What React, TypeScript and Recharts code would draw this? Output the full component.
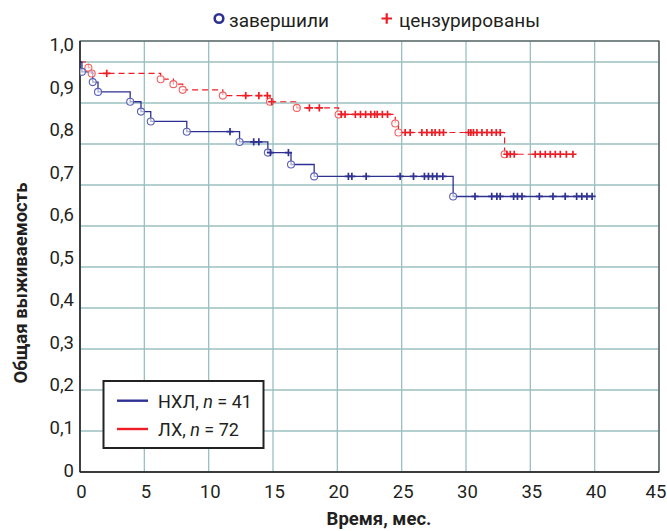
import React from 'react';
import { ComposedChart, Line, Scatter, XAxis, YAxis, CartesianGrid, ReferenceArea } from 'recharts';

// НХЛ (n = 41): event times, survival after each step, censored times
const NHL_T = [0, 0.15, 0.99, 1.4, 3.9, 4.74, 5.5, 8.3, 12.4, 14.6, 16.4, 18.2, 29.0];
const NHL_S = [1.0, 0.976, 0.951, 0.927, 0.903, 0.879, 0.855, 0.83, 0.805, 0.779, 0.75, 0.721, 0.672];
const NHL_END = 39.8;
const NHL_CENS = [11.66, 13.5, 13.9, 14.8, 16.2, 20.86, 21.13, 22.24, 24.88, 25.92, 26.77, 27.08, 27.4, 27.74, 28.2,
  30.7, 32.0, 32.4, 32.66, 33.7, 34.0, 34.35, 35.7, 36.76, 37.71, 38.6, 39.0, 39.4, 39.8];

// ЛХ (n = 72)
const LH_T = [0, 0.65, 0.91, 6.27, 7.26, 7.98, 11.1, 14.77, 16.85, 20.1, 24.5, 24.75, 33.0];
const LH_S = [1.0, 0.986, 0.972, 0.958, 0.946, 0.932, 0.918, 0.903, 0.888, 0.872, 0.85, 0.828, 0.775];
const LH_END = 38.3;
const LH_CENS = [2.08, 12.88, 13.9, 14.56, 14.9, 17.83, 18.6,
  20.3, 20.6, 21.4, 21.8, 22.2, 22.6, 22.9, 23.1, 23.5, 23.9,
  25.27, 25.66, 26.57, 26.96, 27.35, 27.6, 27.94, 28.25,
  30.2, 30.38, 30.58, 30.85, 31.24, 31.63, 32.0, 32.35, 32.66,
  33.18, 33.44, 33.75, 35.38, 35.77, 36.16, 36.55, 36.94, 37.33, 37.8, 38.31];

const X_TICKS = [0, 5, 10, 15, 20, 25, 30, 35, 40, 45];
const Y_TICKS = [0, 0.1, 0.2, 0.3, 0.4, 0.5, 0.6, 0.7, 0.8, 0.9, 1.0];

const W = 667;
const H = 531;
const Y_MAX = 1.0512;
const BLUE = '#2e3192';
const RED = '#ee1c24';
const FONT = 'Roboto, sans-serif';

const levelAt = (T: number[], S: number[], t: number) => {
  let s = S[0];
  T.forEach((tt, i) => { if (tt <= t) s = S[i]; });
  return s;
};

const stepLine = (T: number[], S: number[], end: number) =>
  [...T.map((t, i) => ({ t, s: S[i] })), { t: end, s: S[S.length - 1] }];
const events = (T: number[], S: number[]) => T.slice(1).map((t, i) => ({ t, s: S[i + 1] }));
const censored = (T: number[], S: number[], C: number[]) => C.map((t) => ({ t, s: levelAt(T, S, t) }));

const nhlLine = stepLine(NHL_T, NHL_S, NHL_END);
const lhLine = stepLine(LH_T, LH_S, LH_END);
const nhlEvents = events(NHL_T, NHL_S);
const lhEvents = events(LH_T, LH_S);
const nhlCens = censored(NHL_T, NHL_S, NHL_CENS);
const lhCens = censored(LH_T, LH_S, LH_CENS);

const circleShape = (color: string) => (p: any) => (
  <circle cx={p.cx} cy={p.cy} r={3.5} fill="#fff" fillOpacity={0.6} stroke={color} strokeWidth={1.1} />
);
const plusShape = (color: string) => (p: any) => (
  <path d={`M${p.cx - 3.6},${p.cy}H${p.cx + 3.6}M${p.cx},${p.cy - 3.6}V${p.cy + 3.6}`} stroke={color} strokeWidth={1.7} fill="none" />
);

const fmtY = (v: number) => (v === 0 ? '0' : v.toFixed(1).replace('.', ','));

const YTick = (p: any) => {
  const v = p.payload.value;
  return (
    <text x={74} y={p.y - 2 - 15 * v + 6.5} textAnchor="end" fontSize={18.5} fill="#231f20" fontFamily={FONT}>
      {fmtY(v)}
    </text>
  );
};

const XTick = (p: any) => {
  const v = p.payload.value;
  return (
    <text x={p.x + (v === 45 ? -3 : 1.5)} y={498} textAnchor="middle" fontSize={18.5} fill="#231f20" fontFamily={FONT}>
      {v}
    </text>
  );
};

export default function App() {
  return (
    <div style={{ position: 'absolute', left: 0, top: 0, width: W, height: H, background: '#fff' }}>
      <ComposedChart width={W} height={H} margin={{ top: 41, right: 8, bottom: 29, left: 0 }}>
        <CartesianGrid stroke="#9bbfbf" strokeWidth={1.3} />
        <XAxis type="number" dataKey="t" domain={[0, 45]} ticks={X_TICKS} allowDataOverflow height={30}
          axisLine={{ stroke: '#222', strokeWidth: 1.3 }} tickLine={false} tick={<XTick />} />
        <YAxis type="number" dataKey="s" domain={[0, Y_MAX]} ticks={Y_TICKS} allowDataOverflow width={80}
          axisLine={{ stroke: '#222', strokeWidth: 1.3 }} tickLine={false} tick={<YTick />} />
        <ReferenceArea x1={0} x2={45} y1={0} y2={Y_MAX} fill="none" stroke="#444" strokeWidth={1.2} ifOverflow="visible" />
        <Line data={lhLine} dataKey="s" type="stepAfter" stroke={RED} strokeWidth={1.2} strokeDasharray="6 4"
          dot={false} activeDot={false} isAnimationActive={false} />
        <Line data={nhlLine} dataKey="s" type="stepAfter" stroke={BLUE} strokeWidth={1.3}
          dot={false} activeDot={false} isAnimationActive={false} />
        <Scatter data={lhEvents} dataKey="s" shape={circleShape('#f26060')} isAnimationActive={false} />
        <Scatter data={nhlEvents} dataKey="s" shape={circleShape('#5a62b8')} isAnimationActive={false} />
        <Scatter data={lhCens} dataKey="s" shape={plusShape(RED)} isAnimationActive={false} />
        <Scatter data={nhlCens} dataKey="s" shape={plusShape(BLUE)} isAnimationActive={false} />
      </ComposedChart>
      <svg width={W} height={H} style={{ position: 'absolute', left: 0, top: 0, pointerEvents: 'none' }} fontFamily={FONT}>
        <circle cx={219} cy={18.5} r={4.3} fill="none" stroke={BLUE} strokeWidth={2.6} />
        <text x={229} y={26.5} fontSize={19} fill="#231f20">завершили</text>
        <path d="M381.5,18.5H392M386.7,13.3V23.7" stroke={RED} strokeWidth={2.2} />
        <text x={399} y={26.5} fontSize={19} fill="#231f20">цензурированы</text>

        <rect x={103.5} y={381} width={160} height={67} fill="#fff" stroke="#222" strokeWidth={2} />
        <line x1={117} x2={148} y1={400.7} y2={400.7} stroke={BLUE} strokeWidth={2.4} />
        <line x1={117} x2={148} y1={429} y2={429} stroke={RED} strokeWidth={2.4} />
        <text x={158} y={407.5} fontSize={18} fill="#231f20">НХЛ, <tspan fontStyle="italic">n</tspan> = 41</text>
        <text x={158} y={435.5} fontSize={18} fill="#231f20">ЛХ, <tspan fontStyle="italic">n</tspan> = 72</text>

        <text x={379} y={525} textAnchor="middle" fontSize={18.5} fontWeight={700} fill="#231f20">Время, мес.</text>
        <text transform="translate(27,283) rotate(-90)" textAnchor="middle" fontSize={18.5} fontWeight={700} fill="#231f20">
          Общая выживаемость
        </text>
      </svg>
    </div>
  );
}
